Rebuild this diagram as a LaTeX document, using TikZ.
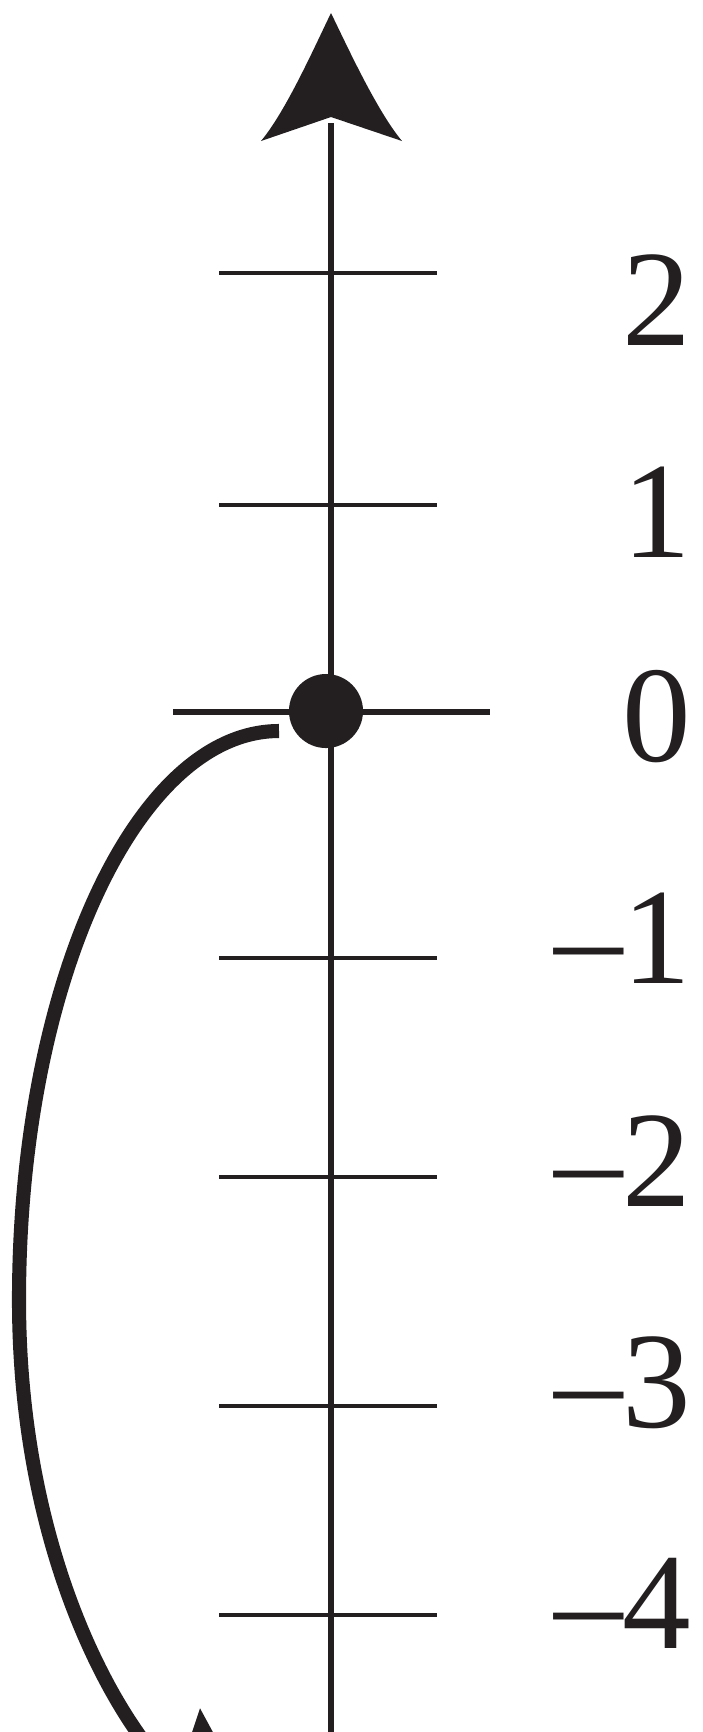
\documentclass[tikz,border=0pt]{standalone}
\usepackage{fontspec}
\setmainfont{Liberation Serif}
\usetikzlibrary{arrows.meta,calc}
\definecolor{ink}{HTML}{231F20}
\tikzset{
  axisline/.style={ink,line width=1.9pt},
  tickline/.style={ink,line width=1.15pt},
  dot/.style={circle,fill=ink,inner sep=0pt,minimum size=0.74cm},
  ticklabel/.style={anchor=base east,inner sep=0pt,text=ink,
    font=\fontsize{39}{39}\selectfont},
  jumpline/.style={ink,line width=4pt}
}
\begin{document}
\begin{tikzpicture}[x=0.01cm,y=-0.01cm]
\useasboundingbox (0,0) rectangle (703,1732);
\clip (0,0) rectangle (703,1732);
% number line
\coordinate (bottom) at (331,1745);
\coordinate (top) at (331,13);
\draw[axisline] (bottom) -- ($(top)+(0,110)$);
\fill[ink] (top) .. controls +(-17,35) and +(25,-30) .. ($(top)+(-70,128)$)
  -- ($(top)+(0,104)$) -- ($(top)+(71,128)$)
  .. controls +(-25,-30) and +(17,35) .. (top) -- cycle;
\foreach \y in {273,505,958,1177,1406,1615}
  \draw[tickline] (219,\y) -- (437,\y);
\draw[axisline] (173,712) -- (490,712);
\foreach \t/\b [count=\i] in {2/345,1/557,0/761,–1/983,–2/1206,–3/1427,–4/1648}
  \node[ticklabel] (lab\i) at (692,\b) {\t};
% start point and jump
\node[dot] (zero) at (326,711) {};
\coordinate (start) at ($(zero)+(-47,20)$);
\coordinate (tip) at (200,1708);
\draw[jumpline,-{Stealth[length=1cm,width=0.85cm,inset=0.15cm]}]
  (start) arc[start angle=270,end angle=180,x radius=260,y radius=569]
  .. controls (19,1500) and (80,1650) .. (137,1732)
  .. controls (205,1830) and (215,1880) .. (tip);
\end{tikzpicture}
\end{document}
